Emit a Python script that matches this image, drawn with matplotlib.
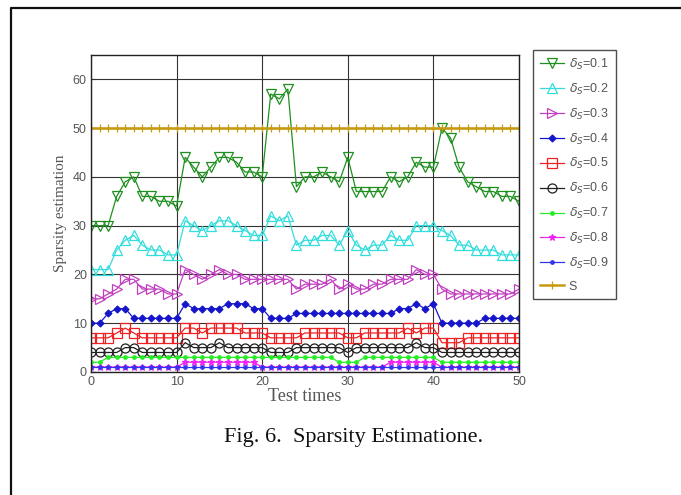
import matplotlib
matplotlib.use("Agg")
import matplotlib.pyplot as plt
from matplotlib.lines import Line2D

x = list(range(51))

d01 = [30, 30, 30, 36, 39, 40, 36, 36, 35, 35, 34, 44, 42, 40, 42, 44, 44, 43, 41, 41,
       40, 57, 56, 58, 38, 40, 40, 41, 40, 39, 44, 37, 37, 37, 37, 40, 39, 40, 43, 42,
       42, 50, 48, 42, 39, 38, 37, 37, 36, 36, 35]
d02 = [21, 21, 21, 25, 27, 28, 26, 25, 25, 24, 24, 31, 30, 29, 30, 31, 31, 30, 29, 28,
       28, 32, 31, 32, 26, 27, 27, 28, 28, 26, 29, 26, 25, 26, 26, 28, 27, 27, 30, 30,
       30, 29, 28, 26, 26, 25, 25, 25, 24, 24, 24]
d03 = [15, 15, 16, 17, 19, 19, 17, 17, 17, 16, 16, 21, 20, 19, 20, 21, 20, 20, 19, 19,
       19, 19, 19, 19, 17, 18, 18, 18, 19, 17, 18, 17, 17, 18, 18, 19, 19, 19, 21, 20,
       20, 17, 16, 16, 16, 16, 16, 16, 16, 16, 17]
d04 = [10, 10, 12, 13, 13, 11, 11, 11, 11, 11, 11, 14, 13, 13, 13, 13, 14, 14, 14, 13,
       13, 11, 11, 11, 12, 12, 12, 12, 12, 12, 12, 12, 12, 12, 12, 12, 13, 13, 14, 13,
       14, 10, 10, 10, 10, 10, 11, 11, 11, 11, 11]
d05 = [7, 7, 7, 8, 9, 8, 7, 7, 7, 7, 7, 9, 9, 8, 9, 9, 9, 9, 8, 8,
       8, 7, 7, 7, 7, 8, 8, 8, 8, 8, 7, 7, 8, 8, 8, 8, 8, 9, 8, 9,
       9, 6, 6, 6, 7, 7, 7, 7, 7, 7, 7]
d06 = [4, 4, 4, 4, 5, 5, 4, 4, 4, 4, 4, 6, 5, 5, 5, 6, 5, 5, 5, 5,
       5, 4, 4, 4, 5, 5, 5, 5, 5, 5, 4, 5, 5, 5, 5, 5, 5, 5, 6, 5,
       5, 4, 4, 4, 4, 4, 4, 4, 4, 4, 4]
d07 = [2, 2, 3, 3, 3, 3, 3, 3, 3, 3, 3, 3, 3, 3, 3, 3, 3, 3, 3, 3,
       3, 3, 3, 3, 3, 3, 3, 3, 3, 2, 2, 2, 3, 3, 3, 3, 3, 3, 3, 3,
       3, 2, 2, 2, 2, 2, 2, 2, 2, 2, 2]
d08 = [1, 1, 1, 1, 1, 1, 1, 1, 1, 1, 1, 2, 2, 2, 2, 2, 2, 2, 2, 2,
       1, 1, 1, 1, 1, 1, 1, 1, 1, 1, 1, 1, 1, 1, 1, 2, 2, 2, 2, 2,
       2, 1, 1, 1, 1, 1, 1, 1, 1, 1, 1]
d09 = [1] * 51
S = [50] * 51

series = [
    (d01, r'$\delta_S$=0.1', '#1f8f1f', 'v', 'none', 6.5),
    (d02, r'$\delta_S$=0.2', '#33dddd', '^', 'none', 6.5),
    (d03, r'$\delta_S$=0.3', '#c040c0', '>', 'none', 6.5),
    (d04, r'$\delta_S$=0.4', '#1515cc', 'D', 'full', 3.5),
    (d05, r'$\delta_S$=0.5', '#ee2222', 's', 'none', 6.5),
    (d06, r'$\delta_S$=0.6', '#202020', 'o', 'none', 6.5),
    (d07, r'$\delta_S$=0.7', '#22ee22', '.', 'full', 5),
    (d08, r'$\delta_S$=0.8', '#ee22ee', '*', 'full', 5),
    (d09, r'$\delta_S$=0.9', '#3333ee', '.', 'full', 5),
    (S, 'S', '#c89a10', '+', 'full', 6),
]

fig = plt.figure(figsize=(6.81, 4.95), dpi=100)
ax = fig.add_axes([0.1336, 0.2485, 0.6285, 0.6405])

for vals, lab, col, mk, fill, ms in series:
    lw = 1.8 if lab == 'S' else 0.9
    ax.plot(x, vals, color=col, marker=mk, markersize=ms, fillstyle=fill,
            markerfacecolor=('none' if fill == 'none' else col),
            markeredgewidth=0.9, linewidth=lw, label=lab)

ax.set_xlim(0, 50)
ax.set_ylim(0, 65)
ax.set_xticks([0, 10, 20, 30, 40, 50])
ax.set_yticks([0, 10, 20, 30, 40, 50, 60])
ax.grid(True, color='#333333', linewidth=0.8, linestyle='-')
ax.tick_params(direction='in', length=3, labelsize=9, labelcolor='#555555',
               colors='#333333', pad=3)
for lbl in ax.get_xticklabels() + ax.get_yticklabels():
    lbl.set_family('Liberation Sans')
for sp in ax.spines.values():
    sp.set_color('#222222')
    sp.set_linewidth(1.0)

ax.set_xlabel('Test times', family='Liberation Serif', fontsize=13,
              color='#555555', labelpad=0)
ax.set_ylabel('Sparsity estimation', family='Liberation Serif', fontsize=11,
              color='#555555', labelpad=4)

leg = ax.legend(loc='upper left', bbox_to_anchor=(0.783, 0.899),
                bbox_transform=fig.transFigure, borderaxespad=0,
                frameon=True, fancybox=False,
                prop={'family': 'Liberation Sans', 'size': 9},
                handlelength=1.9, labelspacing=0.78, borderpad=0.55,
                handletextpad=0.4)
leg.get_frame().set_edgecolor('#222222')
leg.get_frame().set_linewidth(1.0)
for t in leg.get_texts():
    t.set_color('#555555')

fig.text(0.519, 0.117, 'Fig. 6.  Sparsity Estimatione.', ha='center', va='center',
         family='Liberation Serif', fontsize=16, color='#111111')

fx = 11 / 681
fy = 1 - 8 / 495
fig.add_artist(Line2D([fx, fx, 1.0], [0.0, fy, fy], transform=fig.transFigure,
                      color='#111111', linewidth=1.6))

fig.savefig('out.png', dpi=100)
